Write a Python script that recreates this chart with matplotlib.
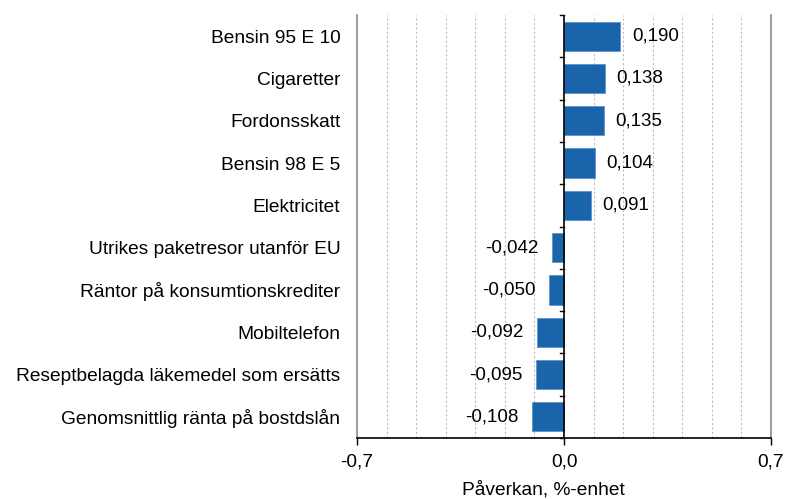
import matplotlib
matplotlib.use("Agg")
import matplotlib.pyplot as plt
import numpy as np

categories = ["Bensin 95 E 10", "Cigaretter", "Fordonsskatt", "Bensin 98 E 5",
              "Elektricitet", "Utrikes paketresor utanför EU",
              "Räntor på konsumtionskrediter", "Mobiltelefon",
              "Reseptbelagda läkemedel som ersätts",
              "Genomsnittlig ränta på bostdslån"]
values = [0.190, 0.138, 0.135, 0.104, 0.091, -0.042, -0.050, -0.092, -0.095, -0.108]
xticks = [-0.7, 0.0, 0.7]
xticklabels = ["-0,7", "0,0", "0,7"]
xlabel = "Påverkan, %-enhet"

plt.rcParams['font.family'] = ['Liberation Sans', 'DejaVu Sans']
fs = 13.8
fsv = 13.5

fig = plt.figure(figsize=(7.87, 4.99), dpi=100)
W, H = 787, 499
left, right, top, bottom = 357, 771, 15, 438
ax = fig.add_axes([left / W, 1 - bottom / H, (right - left) / W, (bottom - top) / H])

n = len(categories)
y = np.arange(n)
ax.barh(y, values, height=0.69, color="#1a64ac", edgecolor="#5b93cc", linewidth=0.6, zorder=3)
ax.set_ylim(n - 0.5, -0.5)
ax.set_xlim(-0.7, 0.7)

# gridlines
for g in np.arange(-6, 7) / 10:
    if abs(g) < 1e-9:
        continue
    ax.axvline(g, color="#bdbdbd", linestyle=(0, (2, 2)), linewidth=0.8, zorder=1)
for g in (-0.7, 0.7):
    ax.axvline(g, color="#8c8c8c", linewidth=1.2, zorder=1, clip_on=False)

# zero axis
ax.axvline(0, color="black", linewidth=1.2, zorder=4)
for b in np.arange(n + 1) - 0.5:
    ax.plot([-0.012, 0], [b, b], color="black", linewidth=1.0, zorder=4, clip_on=False)

for s in ("top", "left", "right"):
    ax.spines[s].set_visible(False)
ax.spines["bottom"].set_color("black")
ax.spines["bottom"].set_linewidth(1.2)
ax.set_xticks(xticks)
ax.set_xticklabels(xticklabels, fontsize=fs)
ax.tick_params(axis="x", direction="out", length=5, width=1.0, pad=6)
ax.set_yticks(y)
ax.set_yticklabels(categories, fontsize=fs)
ax.tick_params(axis="y", length=0, pad=12)

for yi, v in zip(y, values):
    s = f"{v:.3f}".replace(".", ",")
    if v >= 0:
        ax.text(v + 0.04, yi, s, va="center", ha="left", fontsize=fsv, zorder=5)
    else:
        ax.text(v - 0.045, yi, s, va="center", ha="right", fontsize=fsv, zorder=5)

fig.text(543 / W, 1 - 490 / H, xlabel, ha="center", va="center", fontsize=fs)

fig.savefig("out.png", dpi=100)
